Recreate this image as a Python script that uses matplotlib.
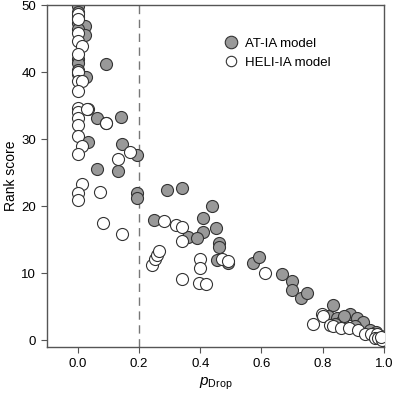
import matplotlib
matplotlib.use('Agg')
import matplotlib.pyplot as plt
from matplotlib.lines import Line2D

plt.rcParams['font.family'] = ['Liberation Sans', 'DejaVu Sans']
plt.rcParams['mathtext.fontset'] = 'custom'
plt.rcParams['mathtext.rm'] = 'Liberation Sans'
plt.rcParams['mathtext.it'] = 'Liberation Sans:italic'

# AT-IA model
at_x = [0.0, 0.0, 0.0, 0.0, 0.023, 0.0, 0.023, 0.0, 0.0, 0.0, 0.0, 0.026, 0.091,
        0.033, 0.062, 0.091, 0.14, 0.033, 0.143, 0.192, 0.062, 0.13, 0.192, 0.192,
        0.293, 0.342, 0.25, 0.44, 0.41, 0.41, 0.453, 0.36, 0.39, 0.46, 0.46, 0.456,
        0.49, 0.573, 0.593, 0.668, 0.70, 0.70, 0.73, 0.75, 0.832, 0.818, 0.847,
        0.863, 0.889, 0.912, 0.93, 0.905, 0.954, 0.974, 0.87, 0.84, 0.99, 0.96]
at_y = [49.8, 49.0, 48.2, 47.3, 46.9, 46.5, 45.5, 41.9, 41.3, 40.4, 39.8, 39.3, 41.2,
        34.5, 33.1, 32.5, 33.3, 29.6, 29.3, 27.6, 25.6, 25.3, 22.0, 21.2,
        22.4, 22.7, 17.9, 20.1, 18.2, 16.2, 16.7, 15.5, 15.3, 14.5, 13.9, 12.0,
        11.6, 11.5, 12.5, 9.9, 8.8, 7.6, 6.3, 7.1, 5.3, 3.7, 3.4,
        2.9, 4.0, 3.3, 2.7, 2.1, 1.6, 1.2, 3.6, 2.5, 0.6, 1.0]

# HELI-IA model
heli_x = [0.0, 0.0, 0.0, 0.0, 0.013, 0.0, 0.0, 0.0, 0.013, 0.0, 0.0, 0.0, 0.0, 0.0,
          0.029, 0.0, 0.013, 0.0, 0.091, 0.13, 0.17, 0.013, 0.0, 0.0, 0.072, 0.081,
          0.143, 0.241, 0.251, 0.26, 0.264, 0.28, 0.32, 0.342, 0.342, 0.342, 0.40,
          0.40, 0.397, 0.42, 0.472, 0.49, 0.612, 0.769, 0.798, 0.80, 0.824, 0.834,
          0.86, 0.886, 0.915, 0.938, 0.958, 0.977, 0.97, 0.98, 0.993, 0.99]
heli_y = [48.7, 48.0, 45.9, 44.6, 43.9, 42.7, 40.0, 38.7, 38.7, 37.2, 34.7, 34.0, 33.2, 32.1,
          34.5, 30.5, 29.0, 27.8, 32.4, 27.0, 28.1, 23.4, 22.0, 21.0, 22.1, 17.5,
          15.9, 11.2, 12.1, 12.8, 13.3, 17.8, 17.2, 16.9, 14.8, 9.2, 12.1,
          10.8, 8.6, 8.4, 12.1, 11.8, 10.0, 2.4, 3.9, 3.6, 2.3, 2.2,
          1.8, 1.9, 1.6, 0.9, 0.9, 0.9, 0.4, 0.3, 0.1, 0.5]

fig = plt.figure(figsize=(3.93, 3.95), dpi=100)
ax = fig.add_axes([0.12, 0.121, 0.857, 0.866])

ax.axvline(0.2, color='#777777', lw=1, ls=(0, (6, 4)), zorder=1)
ax.scatter(at_x, at_y, s=75, c='#999999', edgecolors='#333333', linewidths=0.8, zorder=2)
ax.scatter(heli_x, heli_y, s=75, c='white', edgecolors='#333333', linewidths=0.8, zorder=3)

ax.set_xlim(-0.1, 1.0)
ax.set_ylim(-1, 50)
ax.set_xticks([0.0, 0.2, 0.4, 0.6, 0.8, 1.0])
ax.set_yticks([0, 10, 20, 30, 40, 50])
ax.tick_params(direction='out', length=4, width=0.8, color='#555555', labelsize=9.5, pad=4)
for sp in ax.spines.values():
    sp.set_color('#555555')
    sp.set_linewidth(1.0)

ax.set_xlabel(r'$p_{\mathrm{Drop}}$', fontsize=11, labelpad=4)
ax.set_ylabel('Rank score', fontsize=10, labelpad=2)

handles = [
    Line2D([], [], marker='o', ls='', markersize=9, markerfacecolor='#999999',
           markeredgecolor='#333333', markeredgewidth=0.8),
    Line2D([], [], marker='o', ls='', markersize=7.5, markerfacecolor='white',
           markeredgecolor='#333333', markeredgewidth=0.8),
]
ax.legend(handles, ['AT-IA model', 'HELI-IA model'], loc='upper left',
          bbox_to_anchor=(0.49, 0.92), frameon=False, fontsize=9.5,
          handletextpad=0.1, labelspacing=0.5, borderaxespad=0)

fig.savefig('out.png', dpi=100)
